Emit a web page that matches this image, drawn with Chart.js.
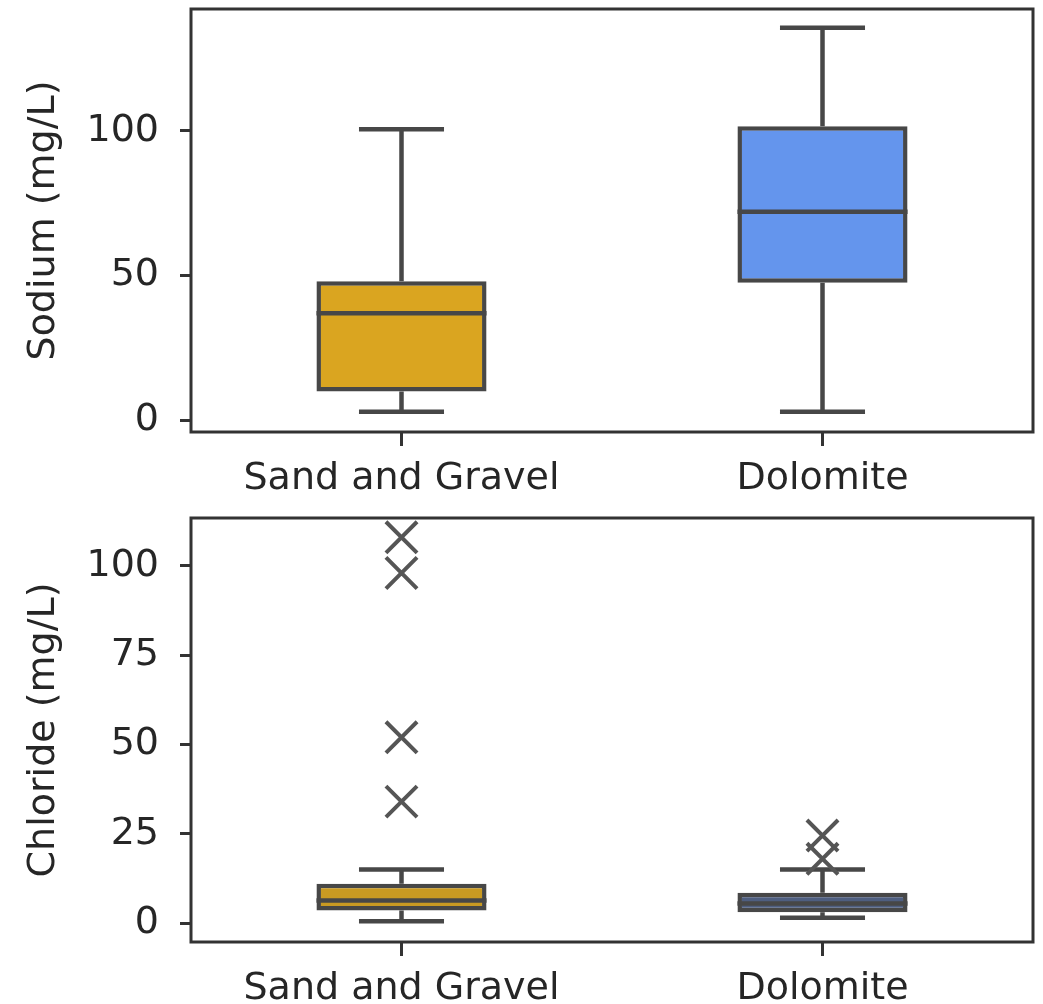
<!DOCTYPE html>
<html>
<head>
<meta charset="utf-8">
<script src="https://cdn.jsdelivr.net/npm/chart.js@4.4.1/dist/chart.umd.min.js"></script>
<style>
    body { margin: 0; background: #fff; }
    .panel { position: relative; width: 1043px; height: 502px; }
</style>
</head>
<body>
<div class="panel"><canvas id="sodium-chart"></canvas></div>
<div class="panel"><canvas id="chloride-chart"></canvas></div>
<script>
// Categories
const categories = ["Sand and Gravel", "Dolomite"];
const sodiumColors = ["#DAA520", "#6495ED"];
const chlorideColors = ["#C99A22", "#4E5E80"];

// Sodium (mg/L) box stats
const sodiumMin = [3, 3];
const sodiumQ1 = [10, 47.5];
const sodiumMedian = [37, 72];
const sodiumQ3 = [48, 101.5];
const sodiumMax = [100.5, 135.5];
const sodiumOutliers = [[], []];
const sodiumTicks = [0, 50, 100];

// Chloride (mg/L) box stats
const chlorideMin = [0.5, 1.5];
const chlorideQ1 = [3.5, 3];
const chlorideMedian = [6.3, 5.5];
const chlorideQ3 = [11, 8.5];
const chlorideMax = [15, 15];
const chlorideOutliers = [[34, 52, 98, 108], [18, 24.5]];
const chlorideTicks = [0, 25, 50, 75, 100];

const lineColor = "#474747";
const textColor = "#262626";
const font = { family: "DejaVu Sans", size: 38 };

// whiskers, caps and medians, drawn from the box stats through the chart scales
const boxLines = {
    id: "boxLines",
    beforeDatasetsDraw(chart, args, opts) {
        const y = chart.scales.y;
        const bars = chart.getDatasetMeta(0).data;
        const ctx = chart.ctx;
        ctx.save();
        ctx.strokeStyle = lineColor;
        ctx.lineWidth = 4.5;
        bars.forEach((bar, i) => {
            const half = bar.width / 4;
            const segs = [
                [opts.q3[i], opts.max[i]],
                [opts.q1[i], opts.min[i]],
            ];
            segs.forEach(([a, b]) => {
                ctx.beginPath();
                ctx.moveTo(bar.x, y.getPixelForValue(a));
                ctx.lineTo(bar.x, y.getPixelForValue(b));
                ctx.moveTo(bar.x - half, y.getPixelForValue(b));
                ctx.lineTo(bar.x + half, y.getPixelForValue(b));
                ctx.stroke();
            });
        });
        ctx.restore();
    },
    afterDatasetsDraw(chart, args, opts) {
        const y = chart.scales.y;
        const bars = chart.getDatasetMeta(0).data;
        const ctx = chart.ctx;
        ctx.save();
        ctx.strokeStyle = lineColor;
        ctx.lineWidth = 4.5;
        bars.forEach((bar, i) => {
            const py = y.getPixelForValue(opts.median[i]);
            ctx.beginPath();
            ctx.moveTo(bar.x - bar.width / 2, py);
            ctx.lineTo(bar.x + bar.width / 2, py);
            ctx.stroke();
        });
        // axes frame
        const a = chart.chartArea;
        ctx.strokeStyle = "#333";
        ctx.lineWidth = 3;
        ctx.strokeRect(a.left, a.top, a.right - a.left, a.bottom - a.top);
        ctx.restore();
    },
};

function makeBoxChart(canvasId, title, stats, colors, ticks, yMin, yMax, pad, xHeight) {
    const outlierPoints = [];
    stats.outliers.forEach((list, i) => {
        list.forEach((v) => outlierPoints.push({ x: categories[i], y: v }));
    });

    return new Chart(document.getElementById(canvasId), {
        type: "bar",
        data: {
            labels: categories,
            datasets: [
                {
                    data: categories.map((c, i) => [stats.q1[i], stats.q3[i]]),
                    backgroundColor: colors,
                    borderColor: lineColor,
                    borderWidth: 4.5,
                    borderSkipped: false,
                    categoryPercentage: 1,
                    barPercentage: 0.404,
                },
                {
                    type: "line",
                    data: outlierPoints,
                    showLine: false,
                    pointStyle: "crossRot",
                    pointRadius: 22,
                    pointBorderWidth: 4,
                    pointBorderColor: "#555",
                    borderColor: "#555",
                    clip: false,
                },
            ],
        },
        options: {
            responsive: true,
            maintainAspectRatio: false,
            animation: false,
            layout: { autoPadding: false, padding: { top: pad, right: 10, left: 0, bottom: 0 } },
            plugins: {
                legend: { display: false },
                tooltip: { enabled: false },
                boxLines: stats,
            },
            scales: {
                x: {
                    offset: true,
                    grid: {
                        offset: false,
                        drawOnChartArea: false,
                        drawTicks: true,
                        tickLength: 14,
                        tickWidth: 3,
                        tickColor: "#333",
                    },
                    border: { display: false },
                    ticks: { color: textColor, font: font, padding: 10, maxRotation: 0 },
                    afterFit(scale) {
                        scale.height = xHeight;
                        scale.paddingLeft = 0;
                        scale.paddingRight = 0;
                    },
                },
                y: {
                    min: yMin,
                    max: yMax,
                    grid: {
                        drawOnChartArea: false,
                        drawTicks: true,
                        tickLength: 11,
                        tickWidth: 3,
                        tickColor: "#333",
                    },
                    border: { display: false },
                    ticks: { color: textColor, font: font, padding: 21 },
                    afterBuildTicks(scale) { scale.ticks = ticks.map((v) => ({ value: v })); },
                    afterFit(scale) {
                        scale.width = 191;
                        scale.paddingTop = 0;
                        scale.paddingBottom = 0;
                    },
                    title: {
                        display: true,
                        text: title,
                        color: textColor,
                        font: font,
                        padding: { top: 21, bottom: 0 },
                    },
                },
            },
        },
        plugins: [boxLines],
    });
}

makeBoxChart("sodium-chart", "Sodium (mg/L)", {
    min: sodiumMin, q1: sodiumQ1, median: sodiumMedian, q3: sodiumQ3, max: sodiumMax, outliers: sodiumOutliers,
}, sodiumColors, sodiumTicks, -4, 142, 9, 70);

makeBoxChart("chloride-chart", "Chloride (mg/L)", {
    min: chlorideMin, q1: chlorideQ1, median: chlorideMedian, q3: chlorideQ3, max: chlorideMax, outliers: chlorideOutliers,
}, chlorideColors, chlorideTicks, -5.3, 113.4, 16, 62);
</script>
</body>
</html>
